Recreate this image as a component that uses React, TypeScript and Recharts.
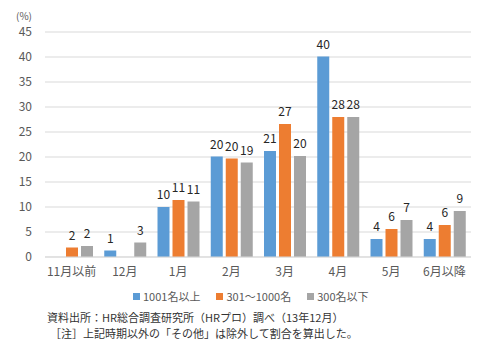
import React from 'react';
import { BarChart, Bar, XAxis, YAxis, CartesianGrid, LabelList, Legend } from 'recharts';

const categories = ['11月以前', '12月', '1月', '2月', '3月', '4月', '5月', '6月以降'];
const large = [null, 1.3, 10.0, 20.1, 21.2, 40.1, 3.6, 3.6];
const medium = [1.9, null, 11.4, 19.7, 26.6, 28.0, 5.6, 6.4];
const small = [2.2, 2.9, 11.1, 18.9, 20.2, 28.0, 7.4, 9.2];
const seriesNames = ['1001名以上', '301～1000名', '300名以下'];
const yTicks = [0, 5, 10, 15, 20, 25, 30, 35, 40, 45];
const unitLabel = '(%)';
const noteLines = [
  '資料出所：HR総合調査研究所（HRプロ）調べ（13年12月）',
  '［注］上記時期以外の「その他」は除外して割合を算出した。',
];

const colors = ['#5B9BD5', '#ED7D31', '#A5A5A5'];
const FONT = '"Noto Sans CJK JP", "Noto Sans", sans-serif';

const data = categories.map((c, i) => ({
  name: c,
  s0: large[i],
  s1: medium[i],
  s2: small[i],
}));

const fmt = (v: any) => (v === null || v === undefined ? '' : String(Math.round(Number(v))));

const LegendContent = () => (
  <div style={{ display: 'flex', alignItems: 'center', fontFamily: FONT, fontSize: 11, color: '#595959', whiteSpace: 'nowrap' }}>
    {seriesNames.map((n, i) => (
      <div key={n} style={{ display: 'flex', alignItems: 'center', marginRight: i < 2 ? 16 : 0 }}>
        <span style={{ display: 'inline-block', width: 7, height: 7, background: colors[i], marginRight: 3 }} />
        <span style={{ lineHeight: '12px' }}>{n}</span>
      </div>
    ))}
  </div>
);

export default function App() {
  return (
    <div style={{ position: 'fixed', left: 0, top: 0, width: 487, height: 351, background: '#fff' }}>
      <BarChart
        width={487}
        height={351}
        data={data}
        margin={{ top: 32, right: 16, bottom: 64, left: 0 }}
        barSize={12}
        barGap={3}
      >
        <CartesianGrid vertical={false} stroke="#D9D9D9" />
        <XAxis
          dataKey="name"
          height={30}
          axisLine={{ stroke: '#D9D9D9' }}
          tickLine={false}
          tickSize={0}
          tickMargin={10}
          interval={0}
          tick={{ fill: '#595959', fontSize: 12, fontFamily: FONT }}
        />
        <YAxis
          width={45}
          domain={[0, 45]}
          ticks={yTicks}
          axisLine={false}
          tickLine={false}
          tickSize={0}
          tickMargin={13}
          tick={{ fill: '#595959', fontSize: 12, fontFamily: FONT }}
        />
        <Legend
          layout="horizontal"
          verticalAlign="middle"
          align="center"
          content={<LegendContent />}
          wrapperStyle={{ position: 'absolute', left: 133, top: 290, width: 'auto' }}
        />
        {['s0', 's1', 's2'].map((k, i) => (
          <Bar key={k} dataKey={k} name={seriesNames[i]} fill={colors[i]} isAnimationActive={false}>
            <LabelList
              dataKey={k}
              position="top"
              offset={8}
              formatter={fmt}
              style={{ fill: '#262626', fontSize: 12, fontFamily: FONT }}
            />
          </Bar>
        ))}
      </BarChart>
      <div style={{ position: 'absolute', left: 16, top: 8, fontFamily: FONT, fontSize: 10, color: '#595959' }}>{unitLabel}</div>
      <div style={{ position: 'absolute', left: 47, top: 309, fontFamily: FONT, fontSize: 11, color: '#333', lineHeight: '16px', whiteSpace: 'nowrap' }}>
        <div>{noteLines[0]}</div>
        <div style={{ marginLeft: 3 }}>{noteLines[1]}</div>
      </div>
    </div>
  );
}
